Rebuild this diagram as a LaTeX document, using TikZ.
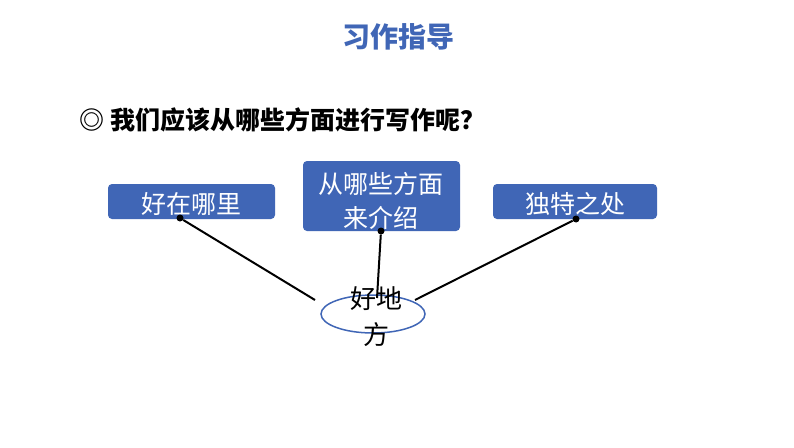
\documentclass[tikz,border=0pt]{standalone}
\usepackage{fontspec}
\newfontfamily\cjk{Noto Sans CJK SC}
\usetikzlibrary{shapes.geometric}
\definecolor{bx}{HTML}{4066B6}
\tikzset{
 bbox/.style={fill=bx,rounded corners=4pt,draw=none},
 btxt/.style={text=white,font=\cjk\fontsize{25}{27}\selectfont,inner sep=0},
 link/.style={line width=2pt},
 dot/.style={circle,fill=black,inner sep=0,minimum size=7pt}
}
\begin{document}
\begin{tikzpicture}[x=1pt,y=-1pt]
\useasboundingbox[fill=white] (0,0) rectangle (794,447);
\node[text=bx,font=\cjk\bfseries\fontsize{28}{30}\selectfont] (title) at (398,37) {习作指导};
\node[anchor=west,font=\cjk\bfseries\fontsize{25}{28}\selectfont] (q) at (76,120) {◎ 我们应该从哪些方面进行写作呢？};
\fill[bbox] (108,184) rectangle (275,219);
\node[btxt] (a) at (191,204) {好在哪里};
\fill[bbox] (303,161) rectangle (460,231);
\node[btxt,align=center,font=\cjk\fontsize{25}{34}\selectfont] (b) at (381,201) {从哪些方面\\来介绍};
\fill[bbox] (493,184) rectangle (657,219);
\node[btxt] (c) at (575,204) {独特之处};
\node[draw=bx,line width=1.5pt,ellipse,minimum width=104,minimum height=38,inner sep=0] (e) at (373,314) {};
\node[align=center,font=\cjk\fontsize{26}{36}\selectfont,inner sep=0] (t) at (376,317) {好地\\方};
\coordinate (ea) at (315,300); \coordinate (eb) at (377,298); \coordinate (ec) at (415,300);
\node[dot] (da) at (180,218) {}; \node[dot] (db) at (381,231) {}; \node[dot] (dc) at (576,219) {};
\draw[link] (da) -- (ea); \draw[link] (db) -- (eb); \draw[link] (dc) -- (ec);
\end{tikzpicture}
\end{document}
